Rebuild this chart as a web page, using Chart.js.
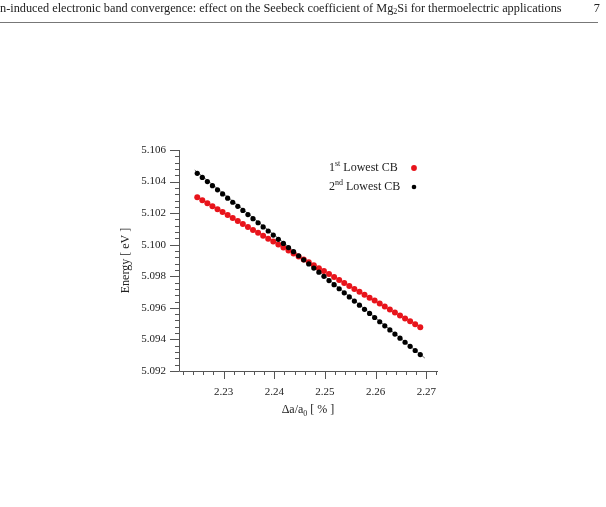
<!DOCTYPE html>
<html>
<head>
<meta charset="utf-8">
<script src="https://cdn.jsdelivr.net/npm/chart.js@4/dist/chart.umd.min.js"></script>
<style>
  html, body { margin: 0; padding: 0; background: #fff; }
  #chart { display: block; }
</style>
</head>
<body>
<canvas id="chart" width="606" height="507"></canvas>
<script>
// lattice strain values (x)
const strain = [
  2.2248, 2.2258, 2.2268, 2.2278, 2.2288, 2.2298, 2.2308, 2.2318, 2.2328, 2.2338,
  2.2348, 2.2358, 2.2368, 2.2378, 2.2388, 2.2398, 2.2408, 2.2418, 2.2428, 2.2438,
  2.2448, 2.2458, 2.2468, 2.2478, 2.2488, 2.2498, 2.2508, 2.2518, 2.2528, 2.2538,
  2.2548, 2.2558, 2.2568, 2.2578, 2.2588, 2.2598, 2.2608, 2.2618, 2.2628, 2.2638,
  2.2648, 2.2658, 2.2668, 2.2678, 2.2688
];

// 1st lowest conduction band (red)
const lowestCB1 = [
  5.10300, 5.10281, 5.10263, 5.10244, 5.10225, 5.10207, 5.10188, 5.10169, 5.10150, 5.10132,
  5.10113, 5.10094, 5.10076, 5.10057, 5.10038, 5.10020, 5.10001, 5.09982, 5.09963, 5.09945,
  5.09926, 5.09907, 5.09889, 5.09870, 5.09851, 5.09833, 5.09814, 5.09795, 5.09776, 5.09758,
  5.09739, 5.09720, 5.09702, 5.09683, 5.09664, 5.09646, 5.09627, 5.09608, 5.09589, 5.09571,
  5.09552, 5.09533, 5.09515, 5.09496, 5.09477
];

// 2nd lowest conduction band (black)
const lowestCB2 = [
  5.10452, 5.10426, 5.10400, 5.10374, 5.10348, 5.10322, 5.10295, 5.10269, 5.10243, 5.10217,
  5.10191, 5.10165, 5.10139, 5.10113, 5.10087, 5.10061, 5.10034, 5.10008, 5.09982, 5.09956,
  5.09930, 5.09904, 5.09878, 5.09852, 5.09826, 5.09800, 5.09773, 5.09747, 5.09721, 5.09695,
  5.09669, 5.09643, 5.09617, 5.09591, 5.09565, 5.09539, 5.09512, 5.09486, 5.09460, 5.09434,
  5.09408, 5.09382, 5.09356, 5.09330, 5.09304
];

// thin fit line through the black points
const fitX = [2.2243, 2.2697];
const fitY = [5.10473, 5.09282];

// tick labels
const xTickLabels = ['2.23', '2.24', '2.25', '2.26', '2.27'];
const yTickLabels = ['5.092', '5.094', '5.096', '5.098', '5.100', '5.102', '5.104', '5.106'];

const serif = '"Liberation Serif", "Times New Roman", serif';

const toPoints = (xs, ys) => xs.map((x, i) => ({ x: x, y: ys[i] }));

// draws axes, ticks, labels, legend and the page header
const decorations = {
  id: 'decorations',
  beforeDatasetsDraw(chart) {
    const ctx = chart.ctx;
    const xs = chart.scales.x;
    const ys = chart.scales.y;
    const area = chart.chartArea;
    ctx.save();
    ctx.strokeStyle = '#555';
    ctx.lineWidth = 1;

    // axis lines
    ctx.beginPath();
    ctx.moveTo(area.left + 0.5, area.top);
    ctx.lineTo(area.left + 0.5, area.bottom + 0.5);
    ctx.lineTo(area.right, area.bottom + 0.5);
    ctx.stroke();

    // x ticks: minor every 0.002, major every 0.01
    for (let i = 0; i <= 25; i++) {
      const v = 2.222 + i * 0.002;
      const px = Math.round(xs.getPixelForValue(v)) + 0.5;
      const major = Math.abs(v * 100 - Math.round(v * 100)) < 1e-6;
      ctx.beginPath();
      ctx.moveTo(px, area.bottom);
      ctx.lineTo(px, area.bottom + (major ? 8 : 4));
      ctx.stroke();
    }
    // y ticks: minor every 0.0004, major every 0.002
    for (let i = 0; i <= 35; i++) {
      const v = 5.092 + i * 0.0004;
      const py = Math.round(ys.getPixelForValue(v)) + 0.5;
      const major = i % 5 === 0;
      ctx.beginPath();
      ctx.moveTo(area.left, py);
      ctx.lineTo(area.left - (major ? 9 : 4), py);
      ctx.stroke();
    }

    ctx.fillStyle = '#222';
    ctx.font = '11px ' + serif;
    ctx.textAlign = 'center';
    ctx.textBaseline = 'middle';
    xTickLabels.forEach(l => {
      ctx.fillText(l, xs.getPixelForValue(parseFloat(l)), area.bottom + 21);
    });
    ctx.textAlign = 'right';
    yTickLabels.forEach(l => {
      ctx.fillText(l, area.left - 13, ys.getPixelForValue(parseFloat(l)));
    });

    // axis titles
    ctx.font = '12px ' + serif;
    ctx.textAlign = 'left';
    const t1 = 'Δa/a', t2 = '0', t3 = ' [ % ]';
    const w1 = ctx.measureText(t1).width;
    const w3 = ctx.measureText(t3).width;
    ctx.font = '8px ' + serif;
    const w2 = ctx.measureText(t2).width;
    let tx = 308 - (w1 + w2 + w3) / 2;
    const ty = area.bottom + 39;
    ctx.font = '12px ' + serif;
    ctx.fillText(t1, tx, ty);
    ctx.font = '8px ' + serif;
    ctx.fillText(t2, tx + w1, ty + 4);
    ctx.font = '12px ' + serif;
    ctx.fillText(t3, tx + w1 + w2, ty);

    ctx.save();
    ctx.translate(126, (area.top + area.bottom) / 2);
    ctx.rotate(-Math.PI / 2);
    ctx.textAlign = 'center';
    ctx.fillText('Energy [ eV ]', 0, 0);
    ctx.restore();

    ctx.restore();
  },
  afterDraw(chart) {
    const ctx = chart.ctx;
    ctx.save();
    ctx.fillStyle = '#222';
    ctx.textBaseline = 'middle';
    ctx.textAlign = 'left';

    // legend
    const rows = [
      { num: '1', sup: 'st', color: '#e8141b', r: 2.9, y: 168 },
      { num: '2', sup: 'nd', color: '#000', r: 2.3, y: 187 }
    ];
    rows.forEach(row => {
      let x = 329;
      ctx.fillStyle = '#222';
      ctx.font = '12px ' + serif;
      ctx.fillText(row.num, x, row.y);
      x += ctx.measureText(row.num).width;
      ctx.font = '8px ' + serif;
      ctx.fillText(row.sup, x, row.y - 4);
      x += ctx.measureText(row.sup).width;
      ctx.font = '12px ' + serif;
      ctx.fillText(' Lowest CB', x, row.y);
      ctx.fillStyle = row.color;
      ctx.beginPath();
      ctx.arc(414, row.y, row.r, 0, Math.PI * 2);
      ctx.fill();
    });

    // page header
    ctx.fillStyle = '#222';
    ctx.font = '12.3px ' + serif;
    const h1 = 'n-induced electronic band convergence: effect on the Seebeck coefficient of Mg';
    const h2 = 'Si for thermoelectric applications';
    ctx.fillText(h1, 0, 9);
    const hw = ctx.measureText(h1).width;
    ctx.font = '8px ' + serif;
    ctx.fillText('2', hw, 12);
    const sw = ctx.measureText('2').width;
    ctx.font = '12.3px ' + serif;
    ctx.fillText(h2, hw + sw, 9);
    ctx.textAlign = 'right';
    ctx.fillText('7', 600, 9);

    ctx.strokeStyle = '#777';
    ctx.lineWidth = 1;
    ctx.beginPath();
    ctx.moveTo(0, 22.5);
    ctx.lineTo(598, 22.5);
    ctx.stroke();
    ctx.restore();
  }
};

new Chart(document.getElementById('chart'), {
  type: 'scatter',
  data: {
    datasets: [
      {
        label: '2nd Lowest CB',
        data: toPoints(strain, lowestCB2),
        backgroundColor: '#000',
        borderColor: '#000',
        pointRadius: 2.6,
        pointBorderWidth: 0,
        order: 0
      },
      {
        label: '1st Lowest CB',
        data: toPoints(strain, lowestCB1),
        backgroundColor: '#e8141b',
        borderColor: '#e8141b',
        pointRadius: 3,
        pointBorderWidth: 0,
        order: 1
      },
      {
        label: 'fit',
        data: toPoints(fitX, fitY),
        showLine: true,
        borderColor: '#444',
        borderWidth: 0.8,
        pointRadius: 0,
        order: 2
      }
    ]
  },
  options: {
    responsive: false,
    animation: false,
    layout: { padding: { left: 179, top: 150, right: 168, bottom: 136 } },
    plugins: { legend: { display: false }, tooltip: { enabled: false } },
    scales: {
      x: { type: 'linear', min: 2.2212, max: 2.2723, display: false },
      y: { type: 'linear', min: 5.092, max: 5.106, display: false }
    }
  },
  plugins: [decorations]
});
</script>
</body>
</html>
